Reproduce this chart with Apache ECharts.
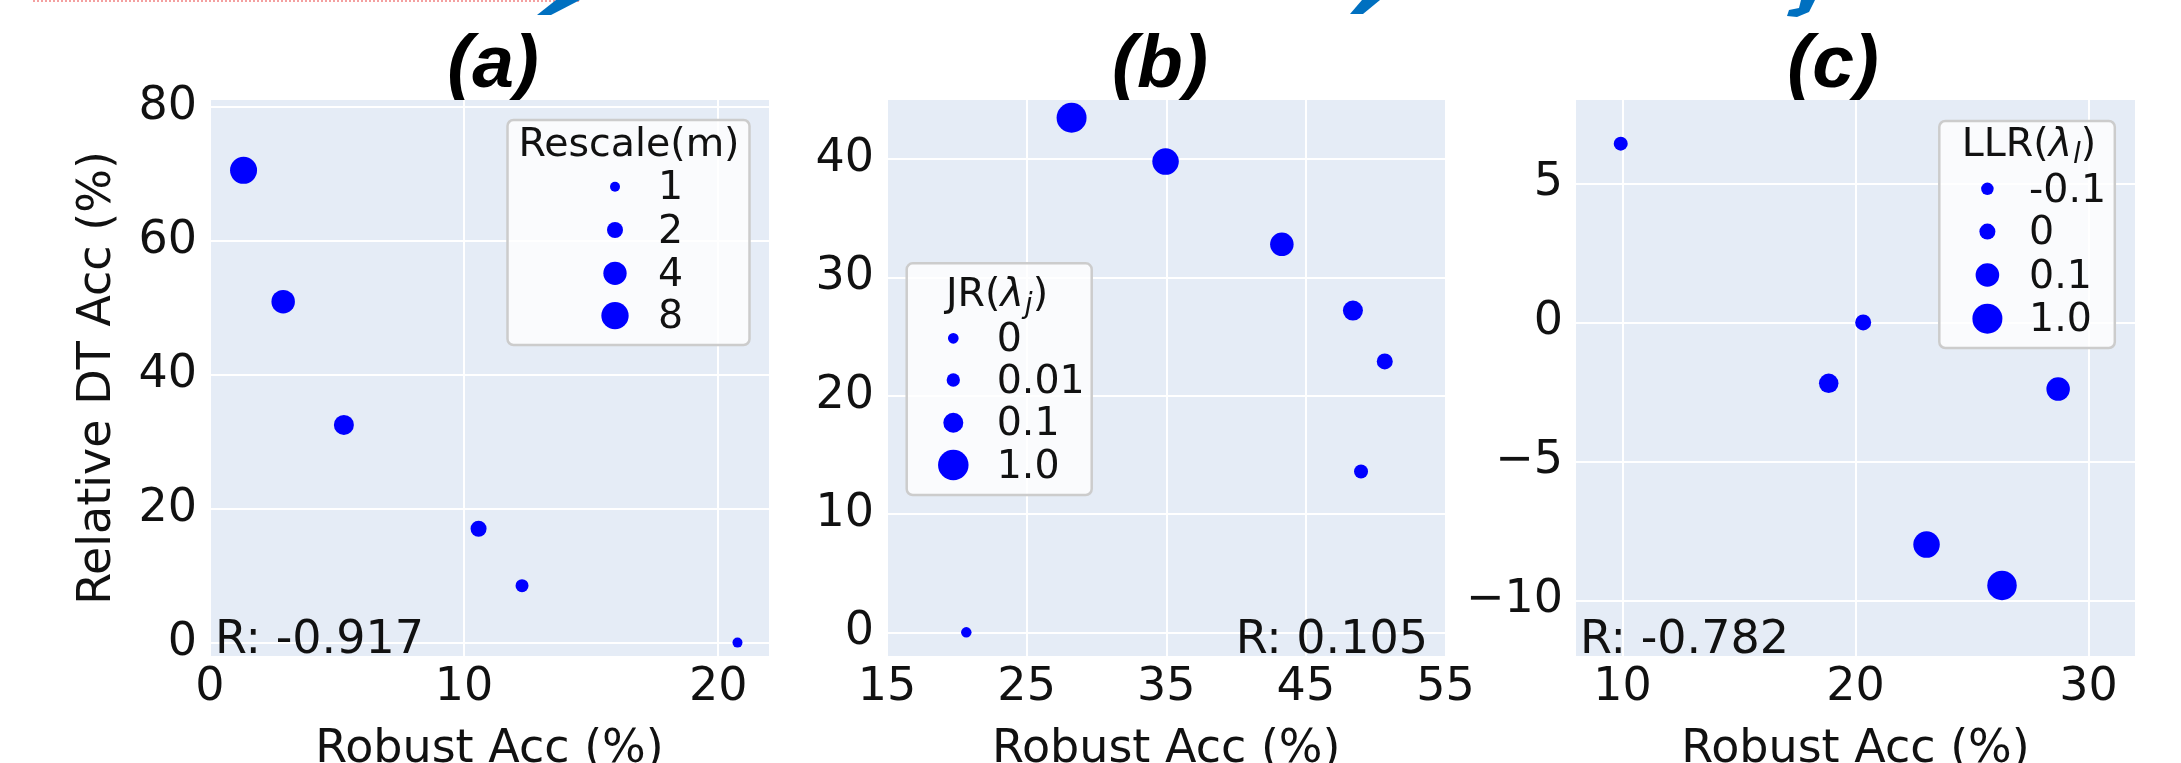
<!DOCTYPE html>
<html><head><meta charset="utf-8">
<script src="https://cdn.jsdelivr.net/npm/echarts@6/dist/echarts.min.js"></script>
<style>html,body{margin:0;padding:0;background:#fff;overflow:hidden}#c{width:2181px;height:763px}</style>
</head><body><div id="c"></div>
<script>
// ---------------- DATA ----------------
const panelTitles = ['(a)', '(b)', '(c)'];
const xName = 'Robust Acc (%)';
const yName = 'Relative DT Acc (%)';

// (a) Rescale(m)
const robustA = [1.32, 2.88, 5.27, 10.57, 12.28, 20.76];
const dtA     = [70.5, 50.9, 32.5, 17.0, 8.5, 0.0];
// (b) JR(lambda_j)
const robustB = [28.22, 34.95, 43.28, 48.37, 50.65, 48.95, 20.68];
const dtB     = [43.5, 39.8, 32.8, 27.2, 22.9, 13.6, 0.0];
// (c) LLR(lambda_l)
const robustC = [9.92, 20.33, 18.85, 28.70, 23.05, 26.29];
const dtC     = [6.43, 0.0, -2.19, -2.40, -7.99, -9.46];

const legendValsA = ['1', '2', '4', '8'];
const legendValsB = ['0', '0.01', '0.1', '1.0'];
const legendValsC = ['-0.1', '0', '0.1', '1.0'];

const corrA = 'R: -0.917';
const corrB = 'R: 0.105';
const corrC = 'R: -0.782';

const xTicksA = [0, 10, 20];
const yTicksA = [0, 20, 40, 60, 80];
const xTicksB = [15, 25, 35, 45, 55];
const yTicksB = [0, 10, 20, 30, 40];
const xTicksC = [10, 20, 30];
const yTicksC = [-10, -5, 0, 5];

// ---------------- STYLE ----------------
const FONT = 'DejaVu Sans';
const BLUE = '#0000ff';
const BG = '#e5ecf6';
const TXT = '#111111';
const LEGFS = 39.5;
const sizeA = [27, 23.5, 20, 16, 13, 10];
const sizeB = [30, 26.5, 23.5, 20, 16, 14, 10.5];
const sizeC = [14, 16, 19.5, 23.5, 26.5, 29.5];
const legSizeA = [10, 16, 23.3, 27.3];
const legSizeB = [10.7, 13.3, 20, 30.5];
const legSizeC = [12.5, 16, 23.6, 30];

const grids = [
  {left: 210, top: 100, width: 559, height: 556},
  {left: 887, top: 100, width: 558.5, height: 556},
  {left: 1576, top: 100, width: 559, height: 556}
];
const ranges = [
  {x: [0, 22], y: [-2, 81]},
  {x: [15, 55], y: [-2, 45]},
  {x: [8, 32], y: [-12, 8]}
];
const ticks = [[xTicksA, yTicksA], [xTicksB, yTicksB], [xTicksC, yTicksC]];

const fmt = v => String(v).replace('-', '\u2212');

function xAxis(i) {
  return {
    type: 'value', gridIndex: i, min: ranges[i].x[0], max: ranges[i].x[1],
    axisLine: {show: false},
    axisTick: {show: false, customValues: ticks[i][0]},
    axisLabel: {customValues: ticks[i][0], fontSize: 46, fontFamily: FONT, color: TXT, margin: 9, formatter: fmt, hideOverlap: false},
    splitLine: {show: true, lineStyle: {color: '#ffffff', width: 2}},
    name: xName, nameLocation: 'middle', nameGap: 71,
    nameTextStyle: {fontSize: 46, fontFamily: FONT, color: TXT}
  };
}
function yAxis(i) {
  const o = {
    type: 'value', gridIndex: i, min: ranges[i].y[0], max: ranges[i].y[1],
    axisLine: {show: false},
    axisTick: {show: false, customValues: ticks[i][1]},
    axisLabel: {customValues: ticks[i][1], fontSize: 46, fontFamily: FONT, color: TXT, margin: 13, formatter: fmt, hideOverlap: false},
    splitLine: {show: true, lineStyle: {color: '#ffffff', width: 2}}
  };
  if (i === 0) {
    o.name = yName; o.nameLocation = 'middle'; o.nameGap = 89;
    o.nameTextStyle = {fontSize: 46, fontFamily: FONT, color: TXT};
  }
  return o;
}
function scatter(i, xs, ys, sizes) {
  return {
    type: 'scatter', xAxisIndex: i, yAxisIndex: i,
    data: xs.map((x, k) => [x, ys[k]]),
    symbol: 'circle',
    symbolSize: (v, p) => sizes[p.dataIndex],
    itemStyle: {color: BLUE, opacity: 1},
    emphasis: {disabled: true}, silent: true, z: 3
  };
}

// legend builder (graphic)
function legend(box, title, titleX, titleY, markerX, markerYs, labelX, vals, sizes) {
  const els = [{
    type: 'rect', z: 50,
    shape: {x: box[0], y: box[1], width: box[2], height: box[3], r: 6},
    style: {fill: 'rgba(255,255,255,0.8)', stroke: '#cccccc', lineWidth: 2.5}
  }, {
    type: 'text', z: 51,
    style: Object.assign({x: titleX, y: titleY, align: 'center', verticalAlign: 'middle',
      font: LEGFS + 'px "' + FONT + '"', fill: TXT}, title)
  }];
  vals.forEach((v, k) => {
    els.push({type: 'circle', z: 51, shape: {cx: markerX, cy: markerYs[k], r: sizes[k] / 2}, style: {fill: BLUE}});
    els.push({type: 'text', z: 51, style: {x: labelX, y: markerYs[k] + 2.5, text: v, align: 'left', verticalAlign: 'middle', font: LEGFS + 'px "' + FONT + '"', fill: TXT}});
  });
  return els;
}
const richTitle = (pre, sub) => ({
  text: '{n|' + pre + '}{i|\u03bb}{s|' + sub + '}{n|)}',
  rich: {
    n: {fontSize: LEGFS, fontFamily: FONT, fill: TXT},
    i: {fontSize: LEGFS, fontFamily: FONT, fontStyle: 'italic', fill: TXT},
    s: {fontSize: 28, fontFamily: FONT, fontStyle: 'italic', fill: TXT, padding: [19, 0, 0, 1]}
  }
});

const graphics = [];
// panel titles (drawn below plot background so the plot clips them)
const titleX = [493, 1160, 1833];
panelTitles.forEach((t, k) => graphics.push({
  type: 'text', z: -1,
  style: {x: titleX[k], y: 66.7, text: t, align: 'center', verticalAlign: 'middle',
    font: 'italic bold 75px "Liberation Sans"', fill: '#000'}
}));
// correlation labels
graphics.push({type: 'text', z: 40, style: {x: 215, y: 641.3, text: corrA, align: 'left', verticalAlign: 'middle', font: '46px "' + FONT + '"', fill: TXT}});
graphics.push({type: 'text', z: 40, style: {x: 1428, y: 641.3, text: corrB, align: 'right', verticalAlign: 'middle', font: '46px "' + FONT + '"', fill: TXT}});
graphics.push({type: 'text', z: 40, style: {x: 1580, y: 641.3, text: corrC, align: 'left', verticalAlign: 'middle', font: '46px "' + FONT + '"', fill: TXT}});
// legends
graphics.push(...legend([507.5, 120, 242, 225], {text: 'Rescale(m)'}, 629, 146, 615, [186.7, 230, 273.3, 315.7], 658, legendValsA, legSizeA));
graphics.push(...legend([906.7, 263.3, 185, 231.7], richTitle('JR(', 'j'), 997, 296, 953.3, [338.3, 380, 422.7, 465], 996.7, legendValsB, legSizeB));
graphics.push(...legend([1939.3, 121, 175.5, 227], richTitle('LLR(', 'l'), 2029, 146, 1987.4, [188.8, 231.6, 275, 318.7], 2029, legendValsC, legSizeC));
// cropped fragments at the very top of the source image
graphics.push({type: 'line', z: 1, shape: {x1: 33, y1: 1, x2: 580, y2: 1}, style: {stroke: '#f4a0a0', lineWidth: 2, lineDash: [2, 2]}});
graphics.push({type: 'polygon', z: 1, shape: {points: [[556, 0], [580, 0], [551, 15], [537, 15]]}, style: {fill: '#0070c0'}});
graphics.push({type: 'polygon', z: 1, shape: {points: [[1362, 0], [1380, 0], [1363, 14], [1350, 14]]}, style: {fill: '#0070c0'}});
graphics.push({type: 'polygon', z: 1, shape: {points: [[1801, 0], [1815, 0], [1809, 12], [1797, 17], [1787, 16], [1789, 10], [1799, 8]]}, style: {fill: '#0070c0'}});

const chart = echarts.init(document.getElementById('c'), null, {renderer: 'canvas', width: 2181, height: 763});
chart.setOption({
  animation: false,
  backgroundColor: '#ffffff',
  grid: grids.map(g => Object.assign({show: true, backgroundColor: BG, borderWidth: 0, containLabel: false, outerBoundsMode: 'none'}, g)),
  xAxis: [0, 1, 2].map(xAxis),
  yAxis: [0, 1, 2].map(yAxis),
  series: [scatter(0, robustA, dtA, sizeA), scatter(1, robustB, dtB, sizeB), scatter(2, robustC, dtC, sizeC)],
  graphic: {elements: graphics}
});
</script></body></html>
